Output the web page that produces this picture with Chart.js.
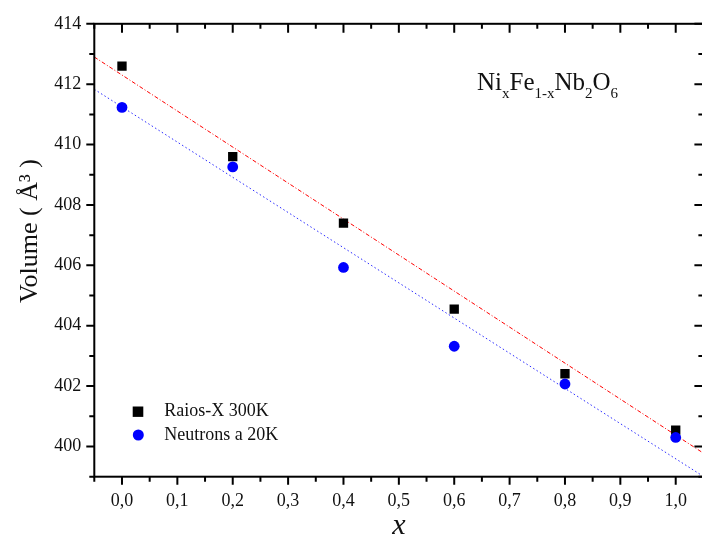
<!DOCTYPE html>
<html>
<head>
<meta charset="utf-8">
<script src="https://cdn.jsdelivr.net/npm/chart.js@4/dist/chart.umd.min.js"></script>
<style>
html,body{margin:0;padding:0;background:#fff;overflow:hidden;width:702px;height:535px}
#wrap{width:710px;height:535px;position:relative}
</style>
</head>
<body>
<div id="wrap"><canvas id="c" width="710" height="535"></canvas></div>
<script>
// ---- data ----
const xValues = [0, 0.2, 0.4, 0.6, 0.8, 1.0];
const raiosX300K = [412.6, 409.6, 407.4, 404.55, 402.41, 400.54];
const neutrons20K = [411.23, 409.26, 405.93, 403.32, 402.07, 400.30];
const fitX = [-0.05, 1.05];
const fitRaiosX = [412.90, 399.78];
const fitNeutrons = [411.83, 399.01];
const xTicks = [0, 0.1, 0.2, 0.3, 0.4, 0.5, 0.6, 0.7, 0.8, 0.9, 1.0];
const xMinorTicks = [-0.05, 0.05, 0.15, 0.25, 0.35, 0.45, 0.55, 0.65, 0.75, 0.85, 0.95, 1.05];
const yTicks = [400, 402, 404, 406, 408, 410, 412, 414];
const yMinorTicks = [399, 401, 403, 405, 407, 409, 411, 413];
const seriesLabels = ['Raios-X 300K', 'Neutrons a 20K'];
const yTitle = 'Volume ( Å³ )';
const xTitle = 'x';
const formulaParts = [['Ni', 0], ['x', 1], ['Fe', 0], ['1-x', 1], ['Nb', 0], ['2', 1], ['O', 0], ['6', 1]];

const SERIF = '"Liberation Serif", "Times New Roman", serif';
const toPts = (xs, ys) => xs.map((x, i) => ({x: x, y: ys[i]}));

const framePlugin = {
  id: 'frame',
  afterDraw(chart) {
    const ctx = chart.ctx;
    const a = chart.chartArea;
    const xs = chart.scales.x, ys = chart.scales.y;
    ctx.save();
    ctx.strokeStyle = '#000';
    ctx.lineWidth = 2;
    ctx.lineCap = 'butt';
    ctx.strokeRect(a.left, a.top, a.right - a.left, a.bottom - a.top);
    ctx.beginPath();
    const tick = (x1, y1, x2, y2) => { ctx.moveTo(x1, y1); ctx.lineTo(x2, y2); };
    xTicks.forEach(v => { const p = xs.getPixelForValue(v); tick(p, a.bottom, p, a.bottom + 8); tick(p, a.top, p, a.top + 9); });
    xMinorTicks.forEach(v => { const p = xs.getPixelForValue(v); tick(p, a.bottom, p, a.bottom + 5); tick(p, a.top, p, a.top + 5); });
    yTicks.forEach(v => { const p = ys.getPixelForValue(v); tick(a.left - 8, p, a.left, p); tick(a.right - 9, p, a.right, p); });
    yMinorTicks.forEach(v => { const p = ys.getPixelForValue(v); tick(a.left - 5, p, a.left, p); tick(a.right - 5, p, a.right, p); });
    ctx.stroke();

    // axis titles
    ctx.fillStyle = '#111';
    ctx.font = '26px ' + SERIF;
    ctx.textAlign = 'center';
    ctx.textBaseline = 'alphabetic';
    ctx.save();
    ctx.translate(36.5, 231);
    ctx.rotate(-Math.PI / 2);
    ctx.fillText(yTitle, 0, 0);
    ctx.restore();
    ctx.font = 'italic 30px ' + SERIF;
    ctx.fillText(xTitle, (a.left + a.right) / 2, 534);

    // formula annotation
    ctx.textAlign = 'left';
    let fx = 477;
    formulaParts.forEach(([t, sub]) => {
      ctx.font = (sub ? '15px ' : '25px ') + SERIF;
      ctx.fillText(t, fx, sub ? 97.5 : 89.5);
      fx += ctx.measureText(t).width;
    });

    // legend
    const ds = chart.data.datasets.filter(d => d.isSeries);
    const rows = [411.7, 435];
    ds.forEach((d, i) => {
      const y = rows[i];
      ctx.fillStyle = d.backgroundColor;
      ctx.beginPath();
      if (d.pointStyle === 'rect') ctx.rect(138 - 5.3, y - 5.2, 10.6, 10.4);
      else ctx.arc(138.3, y, 5.5, 0, Math.PI * 2);
      ctx.fill();
      ctx.fillStyle = '#111';
      ctx.font = '18px ' + SERIF;
      ctx.textBaseline = 'middle';
      ctx.fillText(d.label, 164.3, y);
    });
    ctx.restore();
  }
};

new Chart(document.getElementById('c'), {
  type: 'scatter',
  data: {
    datasets: [
      {label: 'fit Raios-X', data: toPts(fitX, fitRaiosX), showLine: true, pointRadius: 0, borderColor: '#ff0000', borderWidth: 1, borderDash: [4, 2, 1, 2], fill: false, order: 3},
      {label: 'fit Neutrons', data: toPts(fitX, fitNeutrons), showLine: true, pointRadius: 0, borderColor: '#2a2aff', borderWidth: 1, borderDash: [1.5, 2.5], fill: false, order: 2},
      {label: seriesLabels[0], isSeries: true, data: toPts(xValues, raiosX300K), pointStyle: 'rect', pointRadius: 6.6, backgroundColor: '#000', borderColor: '#000', borderWidth: 0, order: 1},
      {label: seriesLabels[1], isSeries: true, data: toPts(xValues, neutrons20K), pointStyle: 'circle', pointRadius: 5.4, backgroundColor: '#0000ff', borderColor: '#0000ff', borderWidth: 0, order: 0}
    ]
  },
  options: {
    responsive: false,
    animation: false,
    devicePixelRatio: 1,
    layout: {padding: {top: 20, left: 0, right: 3.4, bottom: 0}},
    plugins: {legend: {display: false}, tooltip: {enabled: false}},
    scales: {
      x: {
        type: 'linear', min: -0.05, max: 1.05,
        grid: {display: false, drawTicks: false},
        border: {display: false},
        afterBuildTicks: s => { s.ticks = xTicks.map(v => ({value: v})); },
        afterFit: s => { s.height = 58.3; },
        ticks: {padding: 14, autoSkip: false, maxRotation: 0, color: '#111',
          font: {family: SERIF, size: 18},
          callback: v => Number(v).toFixed(1).replace('.', ',')}
      },
      y: {
        type: 'linear', min: 399, max: 414,
        grid: {display: false, drawTicks: false},
        border: {display: false},
        afterBuildTicks: s => { s.ticks = yTicks.map(v => ({value: v})); },
        afterFit: s => { s.width = 94.3; },
        ticks: {padding: 13, autoSkip: false, color: '#111',
          font: {family: SERIF, size: 18},
          callback: v => String(v)}
      }
    }
  },
  plugins: [framePlugin]
});
</script>
</body>
</html>
